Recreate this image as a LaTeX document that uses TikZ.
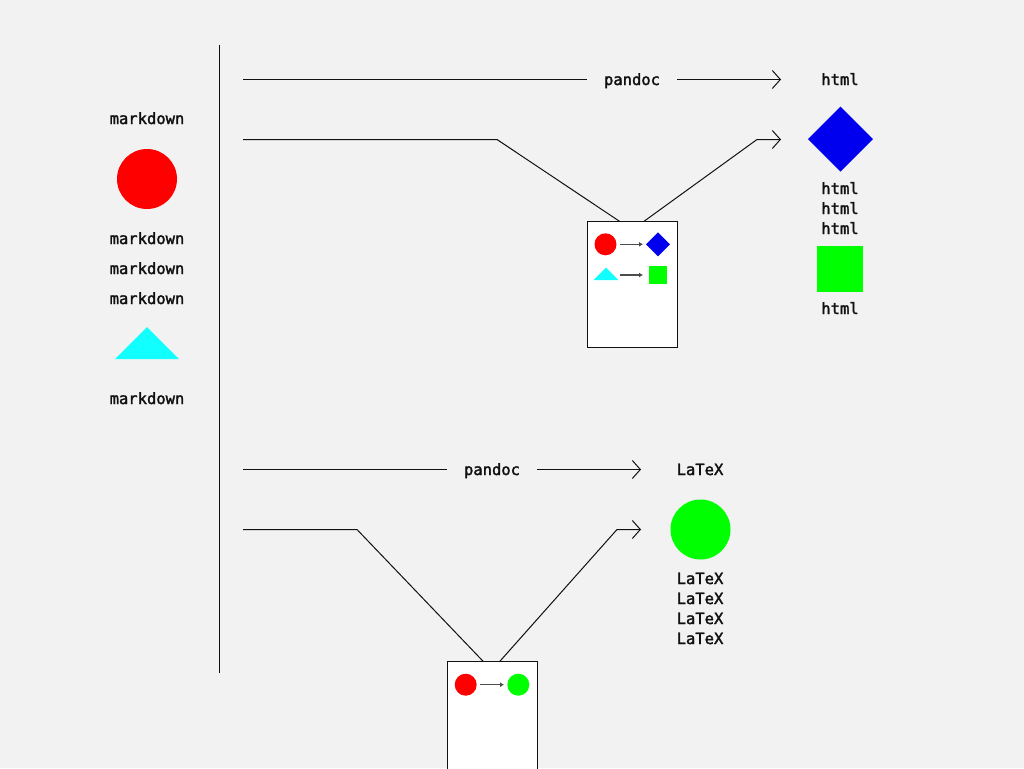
\documentclass[tikz,border=0pt]{standalone}
\usepackage{fontspec}
\newfontfamily\lblfont[FakeBold=2]{DejaVu Sans Mono}
\usetikzlibrary{arrows.meta,calc,shapes.geometric}
\definecolor{bgc}{HTML}{F2F2F2}
\definecolor{ink}{HTML}{111111}
\definecolor{cya}{HTML}{11FFFF}
\definecolor{grn}{HTML}{00FF00}
\definecolor{blu}{HTML}{0000EE}
\definecolor{rd}{HTML}{FF0000}
\begin{document}
\begin{tikzpicture}[x=1pt,y=-1pt,
  lbl/.style={font=\lblfont\fontsize{15.5}{18}\selectfont, anchor=base, inner sep=0pt, text=ink},
  conn/.style={line width=1pt, draw=ink},
  bigtip/.style={-{Straight Barb[length=8pt,width=18pt,line width=1pt]}},
  smalltip/.style={line width=1.3pt, draw=black!70, -{Latex[length=4pt,width=5pt]}},
  docbox/.style={draw=ink, fill=white, line width=1pt, minimum width=90, minimum height=126, inner sep=0, outer sep=0},
  dot/.style={circle, fill=#1, inner sep=0, outer sep=0},
  dia/.style={diamond, fill=blu, inner sep=0, outer sep=0},
  sq/.style={rectangle, fill=grn, inner sep=0, outer sep=0},
]
\fill[bgc] (0,0) rectangle (1024,768);
\useasboundingbox (0,0) rectangle (1024,768);

% vertical divider
\coordinate (vt) at (219.5,45);
\coordinate (vb) at (219.5,673);
\draw[conn] (vt) -- (vb);

% left column
\node[lbl] (m1) at (147,124) {markdown};
\node[dot=rd, minimum size=60] (rc) at (147,179) {};
\node[lbl] (m2) at (147,244) {markdown};
\node[lbl] (m3) at (147,274) {markdown};
\node[lbl] (m4) at (147,304) {markdown};
\fill[cya] (115,359) -- (147,327) -- (179,359) -- cycle;
\node[lbl] (m5) at (147,404) {markdown};

% ===== top section =====
\coordinate (s1) at (243,79.5);
\node[lbl] (pd1) at (632,85) {pandoc};
\coordinate (a1) at (587,79.5);
\coordinate (b1) at (677,79.5);
\coordinate (t1) at (781,79.5);
\draw[conn] (s1) -- (a1);
\draw[conn, bigtip] (b1) -- (t1);
\node[lbl] (h1) at (840,85) {html};

\node[docbox] (box1) at (632.3,284.3) {};
\coordinate (s2) at (243,139.5);
\coordinate (k1) at (497,139.5);
\coordinate (e1) at (619.5,221.3);
\coordinate (e2) at (644,221.3);
\coordinate (k2) at (757,139.5);
\coordinate (t2) at (781,139.5);
\draw[conn] (s2) -- (k1) -- (e1);
\draw[conn, bigtip] (e2) -- (k2) -- (t2);
% box 1 contents
\node[dot=rd, minimum size=22] (bc1) at (605.5,244.3) {};
\node[dia, minimum width=24, minimum height=24] (bd1) at (658,244.3) {};
\draw[smalltip] (620,244.3) -- (643,244.3);
\fill[cya] (593.5,280) -- (606,267.7) -- (618.5,280) -- cycle;
\draw[smalltip] (620,275) -- (643,275);
\node[sq, minimum size=18] (bs1) at (658,274.7) {};

% right column top
\node[dia, minimum width=65, minimum height=65] (bd) at (840.5,139.2) {};
\node[lbl] (h2) at (840,194) {html};
\node[lbl] (h3) at (840,214) {html};
\node[lbl] (h4) at (840,234) {html};
\node[sq, minimum size=46] (bsq) at (840.2,269.2) {};
\node[lbl] (h5) at (840,314) {html};

% ===== bottom section =====
\coordinate (s3) at (243,469.5);
\node[lbl] (pd2) at (492,475) {pandoc};
\coordinate (a3) at (447,469.5);
\coordinate (b3) at (537,469.5);
\coordinate (t3) at (641,469.5);
\draw[conn] (s3) -- (a3);
\draw[conn, bigtip] (b3) -- (t3);
\node[lbl] (l1) at (700,475) {LaTeX};

\node[docbox] (box2) at (492.3,724.7) {};
\coordinate (s4) at (243,529.5);
\coordinate (k3) at (357,529.5);
\coordinate (e3) at (483.5,661.7);
\coordinate (e4) at (499.5,661.7);
\coordinate (k4) at (617,529.5);
\coordinate (t4) at (641,529.5);
\draw[conn] (s4) -- (k3) -- (e3);
\draw[conn, bigtip] (e4) -- (k4) -- (t4);
% box 2 contents
\node[dot=rd, minimum size=22] (bc2) at (465.7,684.7) {};
\draw[smalltip] (480,684.7) -- (504,684.7);
\node[dot=grn, minimum size=22] (bg2) at (518.3,684.7) {};

% right column bottom
\node[dot=grn, minimum size=60] (gc) at (700.5,529.5) {};
\node[lbl] (l2) at (700,584) {LaTeX};
\node[lbl] (l3) at (700,604) {LaTeX};
\node[lbl] (l4) at (700,624) {LaTeX};
\node[lbl] (l5) at (700,644) {LaTeX};
\end{tikzpicture}
\end{document}
